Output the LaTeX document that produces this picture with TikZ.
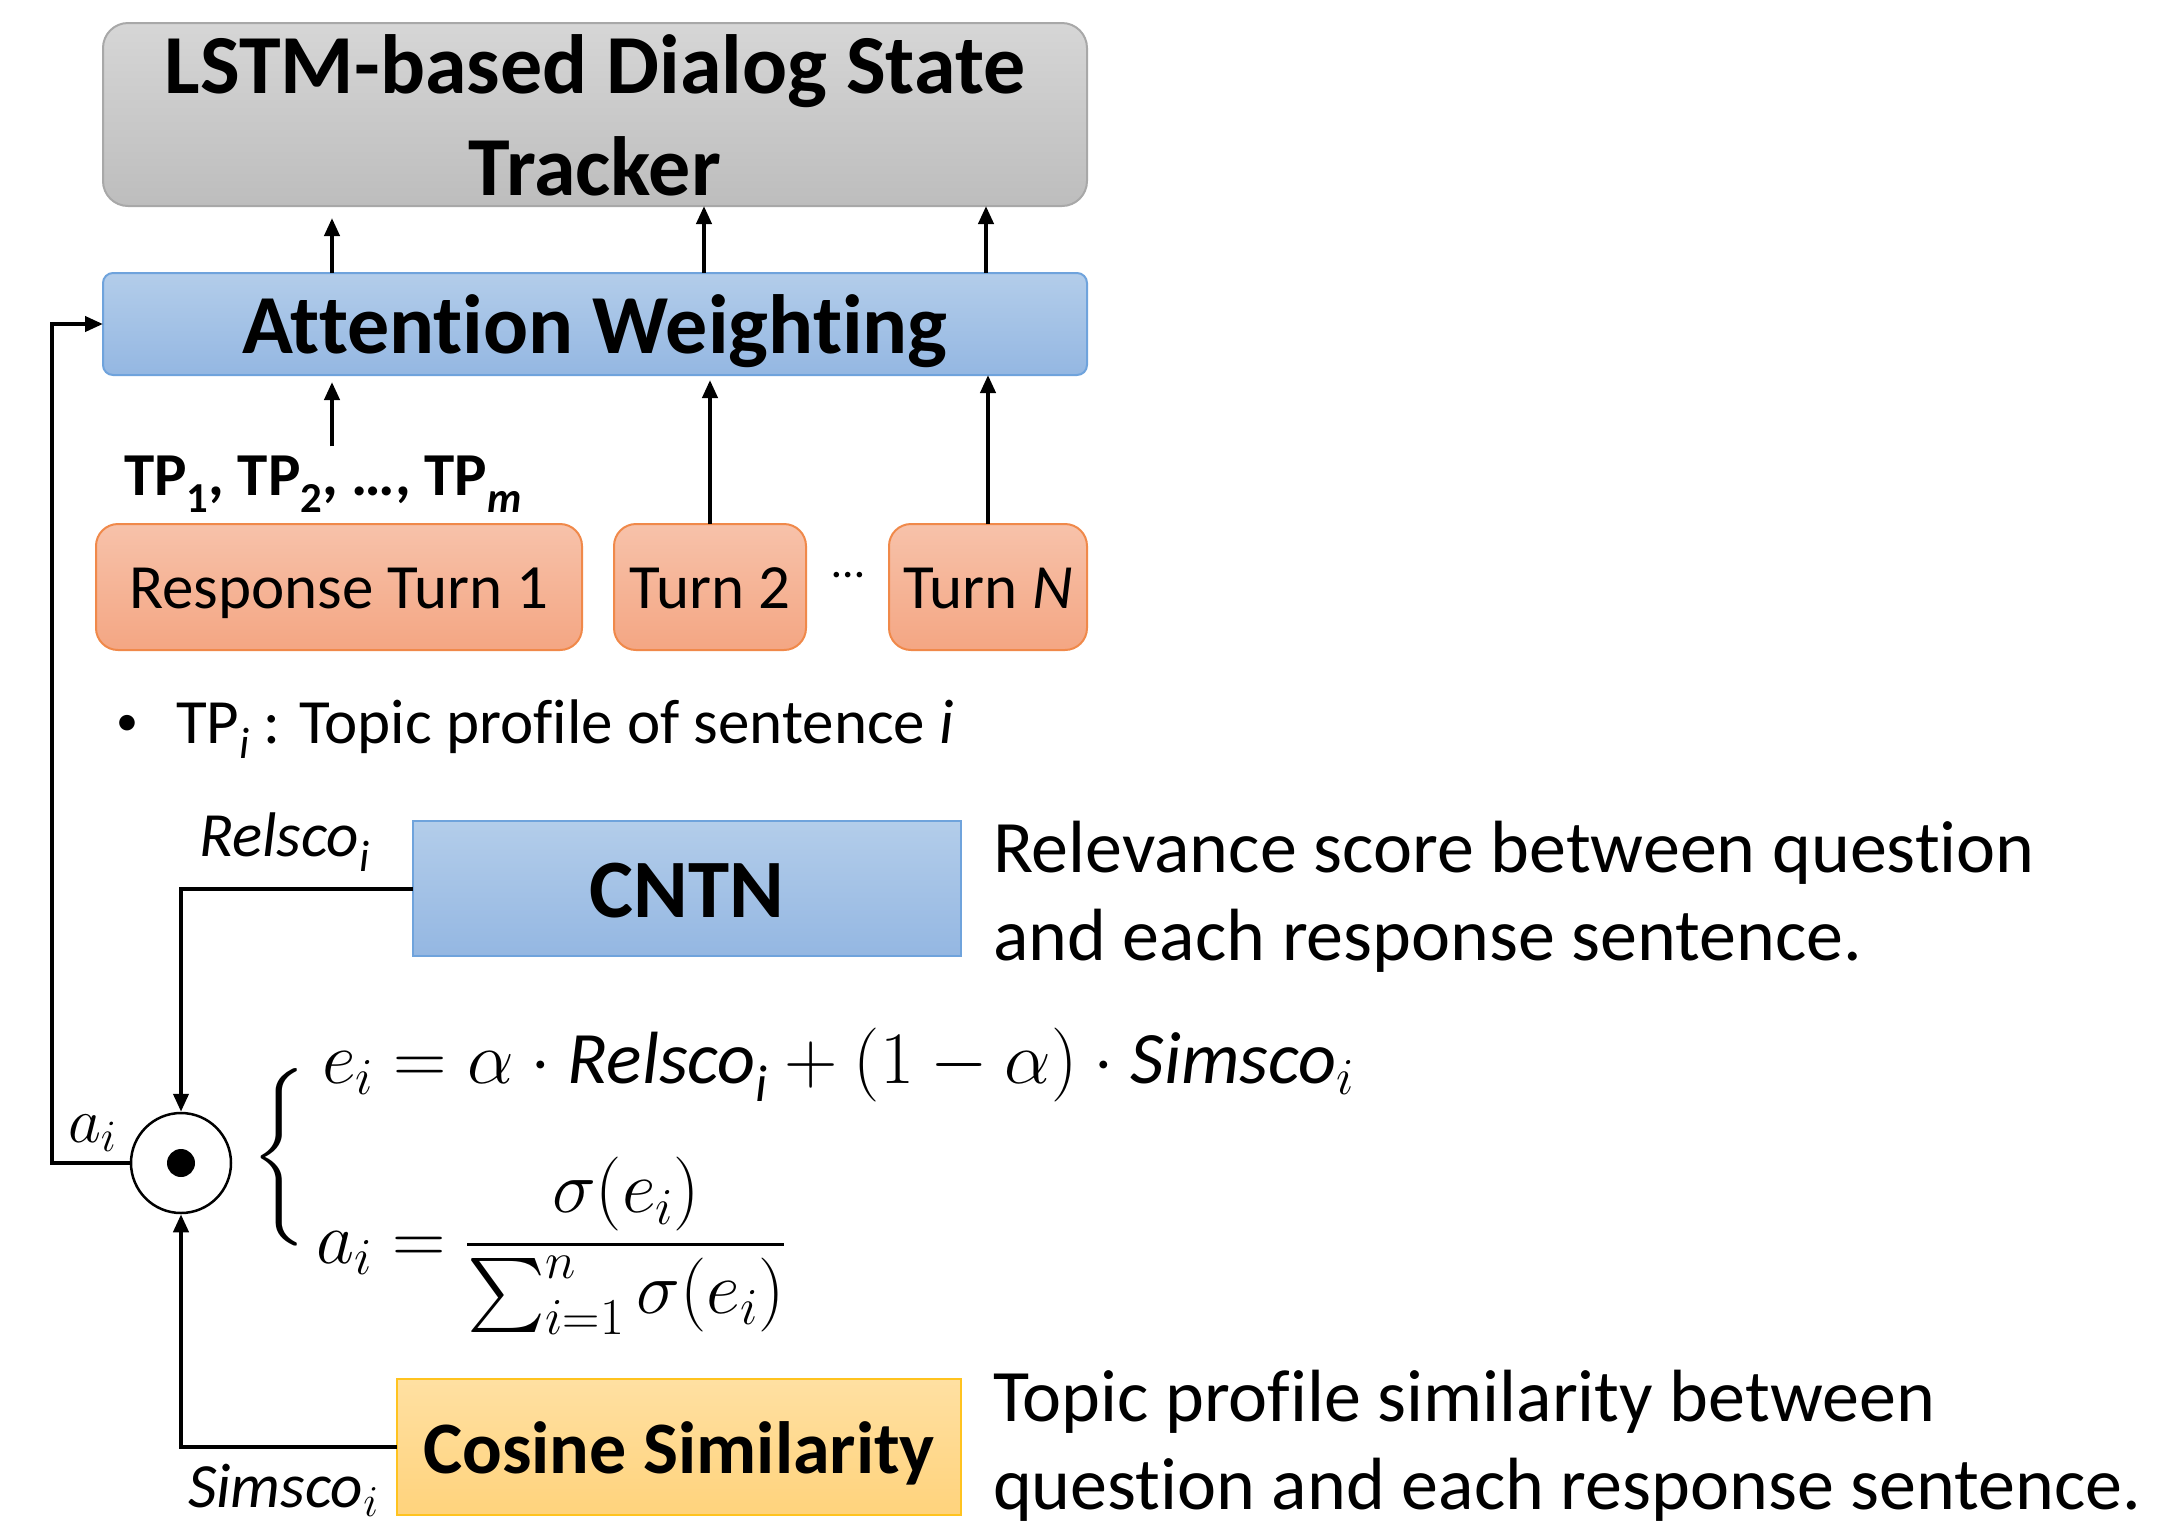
\RequirePackage{fix-cm}
\documentclass[tikz,border=0pt]{standalone}
\usepackage{amsmath}
\usepackage[no-math]{fontspec}
\setmainfont{Carlito}[Ligatures=NoCommon]
\usepackage{graphicx}
\usetikzlibrary{arrows.meta,calc}
\DeclareFontShape{OMX}{cmex}{m}{n}{<->cmex10}{}
\definecolor{grayT}{HTML}{D6D6D6}
\definecolor{grayB}{HTML}{BDBDBD}
\definecolor{grayL}{HTML}{A8A8A8}
\definecolor{blueT}{HTML}{B3CDEA}
\definecolor{blueB}{HTML}{94B7E2}
\definecolor{blueL}{HTML}{6FA3DC}
\definecolor{orT}{HTML}{F7C2AA}
\definecolor{orB}{HTML}{F4A683}
\definecolor{orL}{HTML}{F0894A}
\definecolor{yeT}{HTML}{FFE0A2}
\definecolor{yeB}{HTML}{FFD37C}
\definecolor{yeL}{HTML}{FFC31F}
\newcommand\fsz[1]{\fontsize{#1}{#1}\selectfont}
\newcommand\sbs[2][0.28]{\raisebox{-#1em}{\scalebox{0.7}{#2}}}
\begin{document}
\begin{tikzpicture}[x=1pt,y=-1pt,
  box/.style={draw, line width=2pt, inner sep=0pt, outer sep=0pt},
  graybox/.style={box, draw=grayL, top color=grayT, bottom color=grayB, rounded corners=25pt},
  bluebox/.style={box, draw=blueL, top color=blueT, bottom color=blueB},
  turnbox/.style={box, draw=orL, top color=orT, bottom color=orB, rounded corners=22pt, minimum height=126pt},
  yellowbox/.style={box, draw=yeL, top color=yeT, bottom color=yeB},
  txt/.style={inner sep=0pt, outer sep=0pt, anchor=base},
  txtw/.style={inner sep=0pt, outer sep=0pt, anchor=base west},
  conn/.style={line width=4pt},
  arr/.style={conn, -{Triangle[length=18pt,width=15pt]}},
]
\useasboundingbox (0,0) rectangle (2158,1527);

% boxes
\node[graybox, minimum width=984pt, minimum height=183pt] (gray) at (595,114.5) {};
\node[bluebox, rounded corners=10pt, minimum width=984pt, minimum height=102pt] (att) at (595,324) {};
\node[turnbox, minimum width=486pt] (rt1) at (339,587) {};
\node[turnbox, minimum width=192pt] (rt2) at (710,587) {};
\node[turnbox, minimum width=198pt] (rtN) at (988,587) {};
\node[bluebox, minimum width=548pt, minimum height=135pt] (cntn) at (687,888.5) {};
\node[yellowbox, minimum width=564pt, minimum height=136pt] (cos) at (679,1447) {};
\node[circle, draw, line width=2.5pt, minimum size=100pt, inner sep=0pt, fill=white] (dot) at (181,1163) {};
\node[circle, fill=black, minimum size=28pt, inner sep=0pt] (dotc) at (dot.center) {};

% box texts
\node[txt, font=\fsz{84}\bfseries] (grayA) at (595,93) {LSTM-based Dialog State};
\node[txt, font=\fsz{84}\bfseries] (grayB) at (595,195) {Tracker};
\node[txt, font=\fsz{84}\bfseries] (attT) at (595,353) {Attention Weighting};
\node[txt, font=\fsz{63}] (rt1T) at (339,608) {Response Turn 1};
\node[txt, font=\fsz{63}] (rt2T) at (710,608) {Turn 2};
\node[txt, font=\fsz{63}] (rtNT) at (988,608) {Turn \textit{N}};
\node[txt, font=\fsz{46}] (ell) at (848,577) {…};
\node[txt, font=\fsz{83}\bfseries] (cntnT) at (687,917) {CNTN};
\node[txt, font=\fsz{74}\bfseries] (cosT) at (679,1473) {Cosine Similarity};

% labels
\node[txtw, font=\fsz{61}\bfseries] (tp) at (124,495) {TP\sbs{1}, TP\sbs{2}, …, TP\sbs{\itshape m}};
\node[txt, font=\fsz{44}] (bul) at (127,735) {•};
\node[txtw, font=\fsz{63}] (bulT) at (176,743) {TP\sbs[0.24]{\itshape i} : Topic profile of sentence \textit{i}};
\node[txtw, font=\fsz{74}] (d1a) at (993,872) {Relevance score between question};
\node[txtw, font=\fsz{74}] (d1b) at (993,960) {and each response sentence.};
\node[txtw, font=\fsz{74}] (d2a) at (993,1421) {Topic profile similarity between};
\node[txtw, font=\fsz{74}] (d2b) at (993,1509) {question and each response sentence.};
\node[txtw, font=\fsz{63}\itshape] (rel) at (199,856) {Relsco\sbs[0.25]{i}};
\node[txtw, font=\fsz{63}\itshape] (sim) at (188,1507) {Simsco$_i$};
\node[txtw, font=\fsz{64}] (ai) at (68,1142) {$a_i$};

% equations
\node[txt, font=\fsz{74}] (brace) at (280,1176) {$\left\{\vrule height 105pt depth 70pt width 0pt\right.$};
\node[txtw, font=\fsz{74}] (eq1) at (322,1083) {$e_i = \alpha\cdot\text{\itshape Relsco\sbs[0.25]{i}} + (1-\alpha)\cdot\text{\itshape Simsco}_i$};
\node[txtw, font=\fsz{74}] (eq2) at (316,1263) {$a_i = \dfrac{\sigma(e_i)}{\textstyle\sum_{i=1}^{n}\sigma(e_i)}$};

% connectors
\coordinate (c1) at (332,0);
\draw[arr] (att.north -| c1) -- ($(gray.south -| c1)+(0,12)$);
\draw[arr] ($(att.north -| rt2)+(-6,0)$) -- ($(gray.south -| rt2)+(-6,0)$);
\draw[arr] ($(att.north -| rtN)+(-2,0)$) -- ($(gray.south -| rtN)+(-2,0)$);
\draw[arr] ($(tp.north -| c1)+(0,-9)$) -- ($(att.south -| c1)+(0,7)$);
\draw[arr] (rt2.north) -- ($(att.south -| rt2)+(0,5)$);
\draw[arr] (rtN.north) -- (att.south -| rtN);
\draw[arr] (dot.west) -- ++(-78,0) |- (att.west);
\draw[arr] (cntn.west) -| (dot.north);
\draw[arr] (cos.west) -| (dot.south);
\end{tikzpicture}
\end{document}
